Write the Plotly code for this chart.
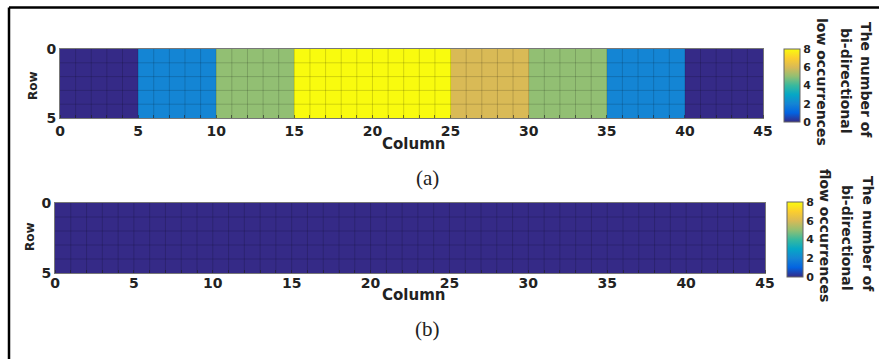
import numpy as np
import plotly.graph_objects as go

# ---------------- data ----------------
n_rows = 5
n_cols = 45
block_width = 5
# value of each 5-column block
blocks_a = [0, 2, 5, 8, 8, 6, 5, 2, 0]
blocks_b = [0, 0, 0, 0, 0, 0, 0, 0, 0]
x_ticks = [0, 5, 10, 15, 20, 25, 30, 35, 40, 45]
y_ticks = [0, 5]
cb_ticks = [0, 2, 4, 6, 8]
cb_title_a = ["The number of", "bi-directional", "low occurrences"]
cb_title_b = ["The number of", "bi-directional", "flow occurrences"]

z_a = np.tile(np.repeat(blocks_a, block_width), (n_rows, 1))
z_b = np.tile(np.repeat(blocks_b, block_width), (n_rows, 1))

parula = [
    [0.0, "#352a87"], [0.125, "#0363e1"], [0.25, "#1485d4"],
    [0.375, "#06a7c6"], [0.5, "#38b99e"], [0.625, "#92bf73"],
    [0.75, "#d9ba56"], [0.875, "#fcce2e"], [1.0, "#f9fb0e"],
]

W, H = 879, 359
def px(x):
    return x / W
def py(y):
    return (H - y) / H

FONT = "DejaVu Sans"
tickfont = dict(family=FONT, size=14, color="#222", weight="bold")

fig = go.Figure()

def add_panel(z, xa, ya, cb_x, cb_top, cb_bot):
    fig.add_trace(go.Heatmap(
        z=z, x0=0.5, dx=1, y0=0.5, dy=1,
        zmin=0, zmax=8, colorscale=parula, xaxis=xa, yaxis=ya,
        colorbar=dict(
            x=px(cb_x), xanchor="left", xpad=0, ypad=0,
            thickness=16, thicknessmode="pixels",
            len=(cb_bot - cb_top) / H, lenmode="fraction",
            y=py((cb_top + cb_bot) / 2), yanchor="middle",
            tickvals=cb_ticks, ticks="",
            tickfont=dict(family=FONT, size=11, color="#222", weight="bold"),
            outlinewidth=1, outlinecolor="#666",
        ),
        hoverinfo="skip",
    ))

add_panel(z_a, "x", "y", 784, 49, 122)
add_panel(z_b, "x2", "y2", 787, 202, 277)

def xaxis_cfg(left, right, anchor, standoff):
    return dict(
        domain=[px(left), px(right)], range=[0, n_cols], anchor=anchor,
        tickvals=x_ticks, ticks="", tickfont=tickfont, automargin=False,
        ticklabelstandoff=standoff,
        showgrid=False, zeroline=False, showline=True, mirror=True,
        linecolor="#777", linewidth=1,
        minor=dict(dtick=1, ticks="inside", ticklen=3, tickcolor="rgba(40,40,40,0.6)"),
    )

def yaxis_cfg(top, bot, anchor):
    return dict(
        domain=[py(bot), py(top)], range=[n_rows, 0], anchor=anchor,
        tickvals=y_ticks, ticks="", tickfont=tickfont, automargin=False,
        showgrid=False, zeroline=False, showline=True, mirror=True,
        linecolor="#777", linewidth=1,
    )

shapes = []
# cell grid lines drawn over the heatmaps
for xr, yr in (("x", "y"), ("x2", "y2")):
    for c in range(1, n_cols):
        shapes.append(dict(type="line", xref=xr, yref=yr, x0=c, x1=c, y0=0, y1=n_rows,
                           line=dict(color="rgba(0,0,0,0.16)", width=1), layer="above"))
    for r in range(1, n_rows):
        shapes.append(dict(type="line", xref=xr, yref=yr, x0=0, x1=n_cols, y0=r, y1=r,
                           line=dict(color="rgba(0,0,0,0.16)", width=1), layer="above"))

# outer frame (top and left edges of the cropped box)
shapes.append(dict(type="line", xref="paper", yref="paper", x0=px(9), x1=px(9), y0=0, y1=py(7.5),
                   line=dict(color="black", width=2.5)))
shapes.append(dict(type="line", xref="paper", yref="paper", x0=px(9), x1=1, y0=py(7.5), y1=py(7.5),
                   line=dict(color="black", width=2.5)))

ann = []
def add_text(text, x, y, size, angle=0, family=FONT, bold=True):
    ann.append(dict(text=text, x=px(x), y=py(y), xref="paper", yref="paper",
                    showarrow=False, textangle=angle, align="center",
                    xanchor="center", yanchor="middle",
                    font=dict(family=family, size=size, color="#222",
                              weight="bold" if bold else "normal")))

add_text("Row", 33, 86, 12, -90)
add_text("Row", 30, 237, 12, -90)
add_text("Column", 413, 144, 15)
add_text("Column", 413, 295, 15)
add_text("(a)", 427, 178, 21, family="Liberation Serif", bold=False)
add_text("(b)", 427, 329, 21, family="Liberation Serif", bold=False)
for line, xc, yc in zip(cb_title_a, (866, 846, 822), (80, 80, 82)):
    add_text(line, xc, yc, 14, 90)
for line, xc, yc in zip(cb_title_b, (868, 847, 825), (234, 237, 235)):
    add_text(line, xc, yc, 14, 90)

fig.update_layout(
    width=W, height=H, margin=dict(l=0, r=0, t=0, b=0, pad=0, autoexpand=False),
    paper_bgcolor="white", plot_bgcolor="white",
    xaxis=xaxis_cfg(60, 763, "y", 0), yaxis=yaxis_cfg(49, 118, "x"),
    xaxis2=xaxis_cfg(55, 765, "y2", -3), yaxis2=yaxis_cfg(203, 273, "x2"),
    shapes=shapes, annotations=ann, showlegend=False,
)

fig.write_html("out.html", post_script="document.body.style.margin='0';")
